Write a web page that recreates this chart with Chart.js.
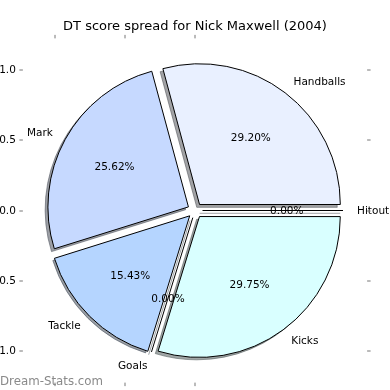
<!DOCTYPE html>
<html><head><meta charset="utf-8">
<script src="https://cdn.jsdelivr.net/npm/chart.js@4/dist/chart.umd.min.js"></script>
<style>html,body{margin:0;padding:0;background:#fff;}canvas{display:block;}</style>
</head><body>
<canvas id="c" width="390" height="390"></canvas>
<script>
// ---- data ----
const TITLE = 'DT score spread for Nick Maxwell (2004)';
const categories = ['Handballs', 'Mark', 'Tackle', 'Goals', 'Kicks', 'Hitout'];
const shares = [29.20, 25.62, 15.43, 0.00, 29.75, 0.00];
const colors = ['#e9f0ff', '#c6d9ff', '#b5d5ff', '#c0e8ff', '#d9ffff', '#e0e8ff'];
const yTicks = [1.0, 0.5, 0.0, -0.5, -1.0];
const yTickLabels = ['1.0', '0.5', '0.0', '\u22120.5', '\u22121.0'];
const xTicks = [-1.0, -0.5, 0.0];
const xTickLabels = ['\u22121.0', '\u22120.5', '0.0'];
const WATERMARK = 'Dream-Stats.com';

// ---- style ----
const EXPLODE = 7.5;      // px shift of each wedge
const RADIUS = 140.5;     // px
const AXLIM = 1.225;      // axes half-extent in radius units
const SH_DX = -2.8, SH_DY = 2.8;
const FONT = '"DejaVu Sans", sans-serif';

const rev = a => a.slice().reverse();

function shadowCol(hex) {
  const n = parseInt(hex.slice(1), 16);
  const r = (n >> 16) & 255, g = (n >> 8) & 255, b = n & 255;
  return `rgba(${Math.round(r * 0.3)},${Math.round(g * 0.3)},${Math.round(b * 0.3)},0.5)`;
}

function geom(a) {
  const p = a.getProps(['x', 'y', 'startAngle', 'endAngle', 'outerRadius'], true);
  const mid = (p.startAngle + p.endAngle) / 2;
  return Object.assign(p, {mid, cx: p.x + Math.cos(mid) * EXPLODE, cy: p.y + Math.sin(mid) * EXPLODE});
}

const pieDecor = {
  id: 'pieDecor',
  beforeDatasetsDraw(chart) {
    const ctx = chart.ctx;
    const arcs = chart.getDatasetMeta(0).data;
    ctx.save();
    arcs.forEach(a => {
      const g = geom(a);
      const col = shadowCol(a.options.backgroundColor);
      const sx = g.cx + SH_DX, sy = g.cy + SH_DY;
      ctx.fillStyle = col; ctx.strokeStyle = col; ctx.lineWidth = 1;
      ctx.beginPath();
      ctx.moveTo(sx, sy);
      if (g.endAngle > g.startAngle) {
        ctx.arc(sx, sy, g.outerRadius, g.startAngle, g.endAngle);
        ctx.closePath();
        ctx.fill();
        ctx.stroke();
      } else {
        ctx.lineTo(sx + Math.cos(g.startAngle) * g.outerRadius, sy + Math.sin(g.startAngle) * g.outerRadius);
        ctx.stroke();
      }
    });
    ctx.restore();
  },
  afterDatasetsDraw(chart) {
    const ctx = chart.ctx;
    const meta = chart.getDatasetMeta(0);
    const arcs = meta.data;
    const vals = chart.data.datasets[0].data;
    const labs = chart.data.labels;
    ctx.save();
    // zero-size wedges as lines
    arcs.forEach(a => {
      const g = geom(a);
      if (g.endAngle > g.startAngle) return;
      ctx.strokeStyle = '#000'; ctx.lineWidth = 1;
      ctx.beginPath();
      ctx.moveTo(g.cx, g.cy);
      ctx.lineTo(g.cx + Math.cos(g.startAngle) * g.outerRadius, g.cy + Math.sin(g.startAngle) * g.outerRadius);
      ctx.stroke();
    });
    // labels & percentages
    ctx.fillStyle = '#000';
    ctx.font = '10.5px ' + FONT;
    ctx.textBaseline = 'middle';
    arcs.forEach((a, i) => {
      const g = geom(a);
      const c = Math.cos(g.mid), s = Math.sin(g.mid);
      const lx = g.cx + c * 1.1 * g.outerRadius, ly = g.cy + s * 1.1 * g.outerRadius + 0.7;
      ctx.textAlign = c > 0 ? 'left' : 'right';
      ctx.fillText(labs[i], lx, ly);
      const px = g.cx + c * 0.6 * g.outerRadius, py = g.cy + s * 0.6 * g.outerRadius + 0.7;
      ctx.textAlign = 'center';
      ctx.fillText(vals[i].toFixed(2) + '%', px, py);
    });
    // axes ticks
    const a0 = geom(arcs[0]);
    const X0 = a0.x, Y0 = a0.y, R = a0.outerRadius;
    const L = X0 - AXLIM * R, Rt = X0 + AXLIM * R, T = Y0 - AXLIM * R, B = Y0 + AXLIM * R;
    const TL = 3.5;
    ctx.strokeStyle = '#777'; ctx.lineWidth = 1;
    ctx.beginPath();
    yTicks.forEach(v => {
      const y = Math.round(Y0 - v * R);
      ctx.moveTo(L - TL, y); ctx.lineTo(L, y);
      ctx.moveTo(Rt, y); ctx.lineTo(Rt + TL, y);
    });
    xTicks.forEach(v => {
      const x = Math.round(X0 + v * R);
      ctx.moveTo(x, T - TL); ctx.lineTo(x, T);
      ctx.moveTo(x, B); ctx.lineTo(x, B + TL);
    });
    ctx.stroke();
    ctx.fillStyle = '#000';
    ctx.font = '10.5px ' + FONT;
    ctx.textAlign = 'right'; ctx.textBaseline = 'middle';
    yTicks.forEach((v, i) => ctx.fillText(yTickLabels[i], L - TL - 3.5, Y0 - v * R + 0.5));
    ctx.textAlign = 'center'; ctx.textBaseline = 'alphabetic';
    xTicks.forEach((v, i) => ctx.fillText(xTickLabels[i], X0 + v * R, B + TL + 13));
    // title
    ctx.font = '13px ' + FONT;
    ctx.textAlign = 'center'; ctx.textBaseline = 'alphabetic';
    ctx.fillText(TITLE, X0, 30);
    // watermark
    ctx.fillStyle = '#8a8a8a';
    ctx.font = '11.8px ' + FONT;
    ctx.textAlign = 'left';
    ctx.fillText(WATERMARK, 0, 385);
    ctx.restore();
  }
};

new Chart(document.getElementById('c'), {
  type: 'pie',
  data: {
    labels: rev(categories),
    datasets: [{
      data: rev(shares),
      backgroundColor: rev(colors),
      borderColor: '#000',
      borderWidth: 1,
      borderJoinStyle: 'miter',
      offset: 4 * EXPLODE,
      hoverOffset: 0
    }]
  },
  options: {
    responsive: false,
    animation: false,
    events: [],
    devicePixelRatio: 1,
    rotation: 90,
    radius: RADIUS,
    layout: {padding: {left: 0, right: 0, top: 31, bottom: 0}},
    plugins: {legend: {display: false}, title: {display: false}, tooltip: {enabled: false}}
  },
  plugins: [pieDecor]
});
</script>
</body></html>
